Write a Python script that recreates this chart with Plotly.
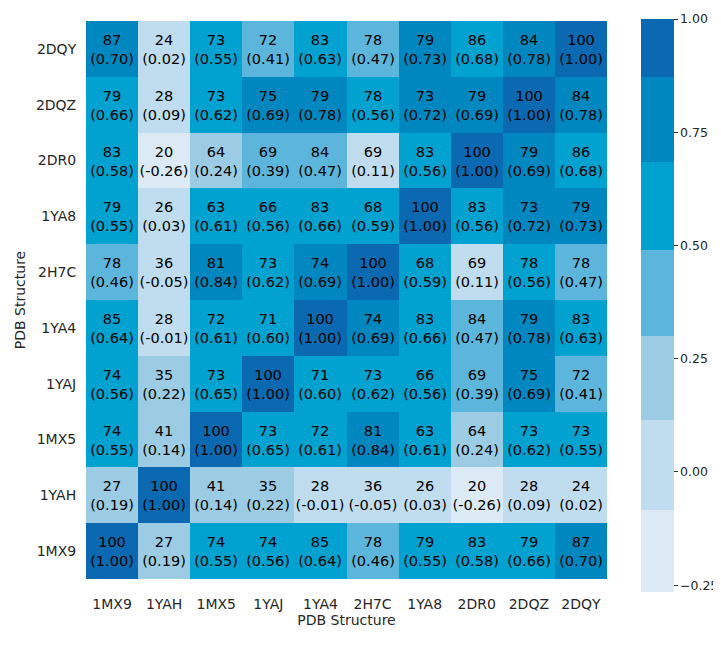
import plotly.graph_objects as go

cols = ["1MX9", "1YAH", "1MX5", "1YAJ", "1YA4", "2H7C", "1YA8", "2DR0", "2DQZ", "2DQY"]
rows = ["2DQY", "2DQZ", "2DR0", "1YA8", "2H7C", "1YA4", "1YAJ", "1MX5", "1YAH", "1MX9"]

identity = [
    [87, 24, 73, 72, 83, 78, 79, 86, 84, 100],
    [79, 28, 73, 75, 79, 78, 73, 79, 100, 84],
    [83, 20, 64, 69, 84, 69, 83, 100, 79, 86],
    [79, 26, 63, 66, 83, 68, 100, 83, 73, 79],
    [78, 36, 81, 73, 74, 100, 68, 69, 78, 78],
    [85, 28, 72, 71, 100, 74, 83, 84, 79, 83],
    [74, 35, 73, 100, 71, 73, 66, 69, 75, 72],
    [74, 41, 100, 73, 72, 81, 63, 64, 73, 73],
    [27, 100, 41, 35, 28, 36, 26, 20, 28, 24],
    [100, 27, 74, 74, 85, 78, 79, 83, 79, 87],
]

corr = [
    [0.70, 0.02, 0.55, 0.41, 0.63, 0.47, 0.73, 0.68, 0.78, 1.00],
    [0.66, 0.09, 0.62, 0.69, 0.78, 0.56, 0.72, 0.69, 1.00, 0.78],
    [0.58, -0.26, 0.24, 0.39, 0.47, 0.11, 0.56, 1.00, 0.69, 0.68],
    [0.55, 0.03, 0.61, 0.56, 0.66, 0.59, 1.00, 0.56, 0.72, 0.73],
    [0.46, -0.05, 0.84, 0.62, 0.69, 1.00, 0.59, 0.11, 0.56, 0.47],
    [0.64, -0.01, 0.61, 0.60, 1.00, 0.69, 0.66, 0.47, 0.78, 0.63],
    [0.56, 0.22, 0.65, 1.00, 0.60, 0.62, 0.56, 0.39, 0.69, 0.41],
    [0.55, 0.14, 1.00, 0.65, 0.61, 0.84, 0.61, 0.24, 0.62, 0.55],
    [0.19, 1.00, 0.14, 0.22, -0.01, -0.05, 0.03, -0.26, 0.09, 0.02],
    [1.00, 0.19, 0.55, 0.56, 0.64, 0.46, 0.55, 0.58, 0.66, 0.70],
]

cbar_ticks = [-0.25, 0.0, 0.25, 0.50, 0.75, 1.00]
band_edges = [-0.265, -0.084, 0.115, 0.300, 0.489, 0.684, 0.871, 1.0]
band_colors = ["#dbeaf5", "#c0dcef", "#9bcce3", "#5cb5da", "#01a1d0", "#0187bf", "#0a69b0"]

zmin, zmax = band_edges[0], band_edges[-1]
colorscale = []
for i, c in enumerate(band_colors):
    a = (band_edges[i] - zmin) / (zmax - zmin)
    b = (band_edges[i + 1] - zmin) / (zmax - zmin)
    colorscale.append([a, c])
    colorscale.append([b, c])

text = [[f"{identity[r][c]}<br>({corr[r][c]:.2f})" for c in range(len(cols))]
        for r in range(len(rows))]

FONT = "DejaVu Sans"

# page has an 8px body margin; div coordinates = page coordinates - 8
L, T = 78, 11
PW, PH = 526, 563
W, H = 721, 625

fig = go.Figure(go.Heatmap(
    z=corr, x=cols, y=rows, text=text, texttemplate="%{text}",
    textfont=dict(family=FONT, size=14.5, color="#000000"),
    colorscale=colorscale, zmin=zmin, zmax=zmax, xgap=0, ygap=0,
    colorbar=dict(
        thickness=33, lenmode="pixels", len=573, yanchor="top", y=1 + 2 / PH,
        xanchor="left", x=(638 - L) / PW, xpad=0, ypad=0, outlinewidth=0,
        tickvals=cbar_ticks, ticktext=[f"{v:.2f}".replace("-", "\u2212") for v in cbar_ticks],
        ticks="outside", ticklen=4, tickcolor="#333333",
        tickfont=dict(family=FONT, size=12.5, color="#262626"),
    ),
))

fig.update_layout(
    width=W, height=H,
    margin=dict(l=L, r=W - L - PW, t=T, b=H - T - PH),
    paper_bgcolor="white", plot_bgcolor="white",
    font=dict(family=FONT, size=14, color="#262626"),
    xaxis=dict(title=dict(text="PDB Structure", standoff=0, font=dict(size=14)),
               ticks="outside", ticklen=12, tickcolor="rgba(0,0,0,0)",
               showgrid=False, zeroline=False, tickfont=dict(size=14)),
    yaxis=dict(title=dict(text="PDB Structure", standoff=6, font=dict(size=14)),
               autorange="reversed", ticks="outside", ticklen=6,
               tickcolor="rgba(0,0,0,0)", showgrid=False, zeroline=False,
               tickfont=dict(size=14)),
)

fig.write_html("out.html")
